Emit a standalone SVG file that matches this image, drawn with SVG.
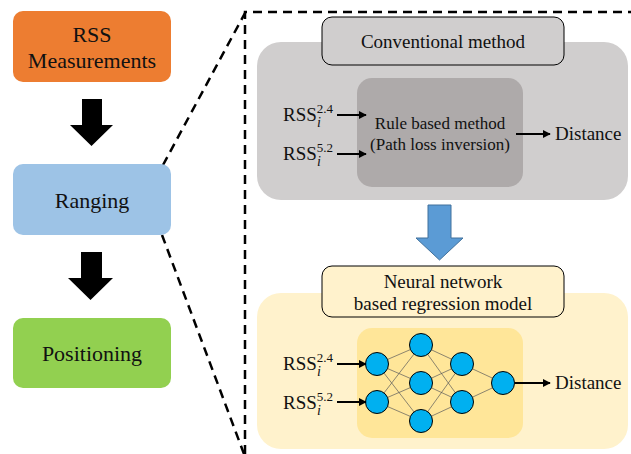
<svg xmlns="http://www.w3.org/2000/svg" width="631" height="454" viewBox="0 0 631 454">
<defs>
<style>
text{font-family:"Liberation Serif","Times New Roman",Tinos,"Noto Serif","DejaVu Serif",FreeSerif,Georgia,Times,serif;fill:#111;}
.dash{fill:none;stroke:#000;stroke-width:2.5;stroke-dasharray:9 6;}
.arr{stroke:#000;stroke-width:2;fill:none;marker-end:url(#ah);}
.nn{fill:#00b0f0;stroke:#000;stroke-width:1;}
.e{stroke:#5a5a5a;stroke-width:0.7;}
.big{fill:#000;}
</style>
<marker id="ah" viewBox="0 0 10 10" refX="9" refY="5" markerWidth="4" markerHeight="4" orient="auto" markerUnits="strokeWidth">
<path d="M0,0 L10,5 L0,10 z" fill="#000"/>
</marker>
</defs>
<rect width="631" height="454" fill="#fff"/>

<g id="connectors">
<path class="dash" d="M163,165 L245,13"/>
<path class="dash" d="M162,235 L244,454"/>
<path class="dash" d="M245,454 V12 H640"/>
<polygon class="big" points="82,99 102,99 102,125 113,125 91.5,146 70,125 82,125"/>
<polygon class="big" points="81,252 102,252 102,278 113,278 90.5,300 68,278 81,278"/>
<polygon points="428,205 451,205 451,238 463,238 439.5,260 416,238 428,238" fill="#5b9bd5" stroke="#41719c" stroke-width="1"/>
</g>

<g id="rss-measurements">
<rect x="13" y="11" width="158" height="71" rx="10" fill="#ed7d31"/>
<text x="92" y="42" font-size="22" text-anchor="middle">RSS</text>
<text x="92" y="68" font-size="22" text-anchor="middle">Measurements</text>
</g>
<g id="ranging">
<rect x="13" y="164" width="158" height="71" rx="10" fill="#9dc3e6"/>
<text x="92" y="208" font-size="22" text-anchor="middle">Ranging</text>
</g>
<g id="positioning">
<rect x="13" y="318" width="158" height="70" rx="10" fill="#92d050"/>
<text x="92" y="361" font-size="22" text-anchor="middle">Positioning</text>
</g>

<g id="conventional">
<rect x="257" y="42" width="371" height="158" rx="24" fill="#d0cece"/>
<rect x="322" y="17" width="242" height="48" rx="10" fill="#d0cece" stroke="#000" stroke-width="1"/>
<text x="443" y="48" font-size="19" text-anchor="middle">Conventional method</text>
<rect x="357" y="78" width="166" height="109" rx="15" fill="#aeaaaa"/>
<text x="440" y="129" font-size="17" text-anchor="middle">Rule based method</text>
<text x="440" y="150" font-size="17" text-anchor="middle">(Path loss inversion)</text>
<text x="283" y="121" font-size="19">RSS<tspan font-size="13" dy="-8">2.4</tspan></text>
<text x="317" y="127" font-size="14" font-style="italic">i</text>
<text x="283" y="160" font-size="19">RSS<tspan font-size="13" dy="-8">5.2</tspan></text>
<text x="317" y="166" font-size="14" font-style="italic">i</text>
<path class="arr" d="M337,115 H366"/>
<path class="arr" d="M337,154 H366"/>
<path class="arr" d="M516,134 H550"/>
<text x="555" y="140" font-size="19">Distance</text>
</g>

<g id="neural-network">
<rect x="257" y="293" width="371" height="156" rx="24" fill="#fff2cc"/>
<rect x="322" y="266" width="242" height="51" rx="10" fill="#fff2cc" stroke="#000" stroke-width="1"/>
<text x="443" y="288" font-size="19" text-anchor="middle">Neural network</text>
<text x="443" y="310" font-size="19" text-anchor="middle">based regression model</text>
<rect x="357" y="328" width="166" height="110" rx="15" fill="#ffe699"/>
<g id="nn-edges">
<line class="e" x1="377" y1="364" x2="421" y2="345"/>
<line class="e" x1="377" y1="364" x2="421" y2="383"/>
<line class="e" x1="377" y1="364" x2="421" y2="421"/>
<line class="e" x1="377" y1="402" x2="421" y2="345"/>
<line class="e" x1="377" y1="402" x2="421" y2="383"/>
<line class="e" x1="377" y1="402" x2="421" y2="421"/>
<line class="e" x1="421" y1="345" x2="462" y2="364"/>
<line class="e" x1="421" y1="345" x2="462" y2="402"/>
<line class="e" x1="421" y1="383" x2="462" y2="364"/>
<line class="e" x1="421" y1="383" x2="462" y2="402"/>
<line class="e" x1="421" y1="421" x2="462" y2="364"/>
<line class="e" x1="421" y1="421" x2="462" y2="402"/>
<line class="e" x1="462" y1="364" x2="503" y2="383"/>
<line class="e" x1="462" y1="402" x2="503" y2="383"/>
</g>
<circle class="nn" cx="377" cy="364" r="11.5"/>
<circle class="nn" cx="377" cy="402" r="11.5"/>
<circle class="nn" cx="421" cy="345" r="11.5"/>
<circle class="nn" cx="421" cy="383" r="11.5"/>
<circle class="nn" cx="421" cy="421" r="11.5"/>
<circle class="nn" cx="462" cy="364" r="11.5"/>
<circle class="nn" cx="462" cy="402" r="11.5"/>
<circle class="nn" cx="503" cy="383" r="11.5"/>
<text x="283" y="370" font-size="19">RSS<tspan font-size="13" dy="-8">2.4</tspan></text>
<text x="317" y="376" font-size="14" font-style="italic">i</text>
<text x="283" y="409" font-size="19">RSS<tspan font-size="13" dy="-8">5.2</tspan></text>
<text x="317" y="415" font-size="14" font-style="italic">i</text>
<path class="arr" d="M337,364 H366"/>
<path class="arr" d="M337,402 H366"/>
<path class="arr" d="M515,383 H550"/>
<text x="555" y="389" font-size="19">Distance</text>
</g>
</svg>
